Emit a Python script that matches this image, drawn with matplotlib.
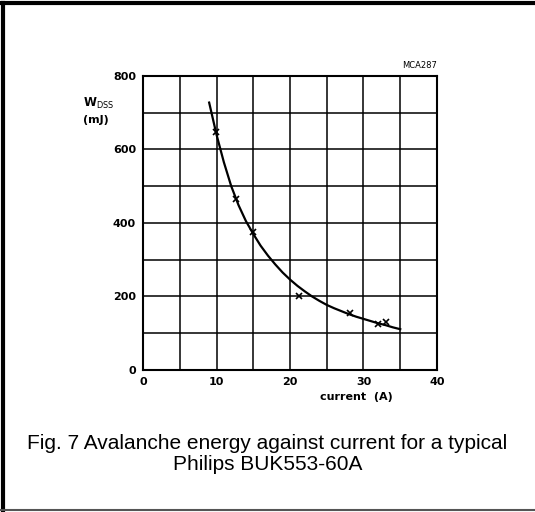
import matplotlib
matplotlib.use("Agg")
import matplotlib.pyplot as plt
from matplotlib.lines import Line2D

# measured points (crosses)
i_meas = [9.9, 12.6, 14.9, 21.2, 28.1, 32.0, 33.0]
w_meas = [647, 464, 375, 202, 156, 124, 131]

# fitted curve
i_curve = [9, 10, 11, 12, 13, 14, 15, 16, 17, 18, 19, 20, 21, 22, 23, 24,
           25, 26, 27, 28, 29, 30, 31, 32, 33, 34, 35]
w_curve = [727, 640, 565, 500, 448, 405, 370, 338, 311, 287, 265, 246, 229,
           214, 200, 188, 177, 168, 160, 152, 145, 139, 133, 127, 122, 116, 111]

x_ticks = [0, 10, 20, 30, 40]
y_ticks = [0, 200, 400, 600, 800]

fig = plt.figure(figsize=(5.35, 5.12), dpi=100)
ax = fig.add_axes([0.2673, 0.2773, 0.5495, 0.5748])

ax.plot(i_curve, w_curve, color="black", lw=1.6)
ax.plot(i_meas, w_meas, linestyle="none", marker="x", color="black",
        markersize=5, markeredgewidth=1.2)

ax.set_xlim(0, 40)
ax.set_ylim(0, 800)
ax.set_xticks(range(0, 41, 5))
ax.set_yticks(range(0, 801, 100))
ax.grid(True, color="black", lw=1.1)
ax.tick_params(length=0, pad=5)
ax.set_xticklabels([str(v) if v in x_ticks else "" for v in range(0, 41, 5)],
                   fontsize=8, fontweight="bold")
ax.set_yticklabels([str(v) if v in y_ticks else "" for v in range(0, 801, 100)],
                   fontsize=8, fontweight="bold")
for s in ax.spines.values():
    s.set_linewidth(1.5)

fig.text(0.155, 0.797, r"W$_{\rm DSS}$", fontsize=8.5, fontweight="bold",
         ha="left", va="center")
fig.text(0.155, 0.765, "(mJ)", fontsize=8, fontweight="bold",
         ha="left", va="center")
fig.text(0.817, 0.872, "MCA287", fontsize=6, ha="right", va="center")
fig.text(0.667, 0.224, "current  (A)", fontsize=8, fontweight="bold",
         ha="center", va="center")

fig.text(0.5, 0.113, "Fig. 7 Avalanche energy against current for a typical\nPhilips BUK553-60A",
         fontsize=15, family="Liberation Sans", ha="center", va="center",
         linespacing=1.17)

# page frame
fig.add_artist(Line2D([0, 1], [0.9935, 0.9935], color="black", lw=3,
                      transform=fig.transFigure))
fig.add_artist(Line2D([0.0065, 0.0065], [0, 0.995], color="black", lw=3,
                      transform=fig.transFigure))
fig.add_artist(Line2D([0, 1], [0.003, 0.003], color="#555555", lw=1.5,
                      transform=fig.transFigure))

fig.savefig("out.png", dpi=100)
